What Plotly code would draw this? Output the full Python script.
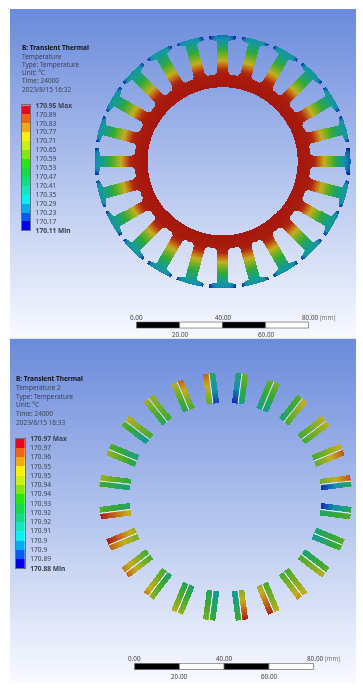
import numpy as np
import plotly.graph_objects as go

# ---------- canvas ----------
W, H = 363, 688
FONT = "Noto Sans"

# ---------- legend data ----------
legend_colors = ["#e60a1e", "#f06414", "#f0aa14", "#faf00a", "#c8f014", "#82e614", "#28e614",
                 "#14dc46", "#14dc82", "#14e6be", "#0af0f0", "#0aaaf0", "#0a5af0", "#0000e6"]
legend_labels_1 = ["<b>170.11 Min</b>", "170.17", "170.23", "170.29", "170.35", "170.41", "170.47", "170.53",
                   "170.59", "170.65", "170.71", "170.77", "170.83", "170.89", "<b>170.95 Max</b>"]
legend_labels_2 = ["<b>170.88 Min</b>", "170.89", "170.9", "170.9", "170.91", "170.92", "170.92", "170.93",
                   "170.94", "170.94", "170.95", "170.95", "170.96", "170.97", "<b>170.97 Max</b>"]
title_lines_1 = ["<b>B: Transient Thermal</b>", "Temperature", "Type: Temperature", "Unit: °C",
                 "Time: 24000", "2023/8/15 16:32"]
title_lines_2 = ["<b>B: Transient Thermal</b>", "Temperature 2", "Type: Temperature", "Unit: °C",
                 "Time: 24000", "2023/8/15 16:33"]
scale_segments = [20, 20, 20, 20]
scale_colors = ["#000000", "#ffffff", "#000000", "#ffffff"]
scale_labels = ["0.00", "20.00", "40.00", "60.00", "80.00"]

# ---------- contour colour table (shaded colours of the model) ----------
contour_scale = [[0.00, "rgb(10,20,160)"], [0.12, "rgb(15,80,175)"], [0.23, "rgb(20,145,175)"],
                 [0.34, "rgb(25,160,125)"], [0.48, "rgb(55,170,50)"], [0.62, "rgb(125,175,35)"],
                 [0.74, "rgb(195,175,30)"], [0.87, "rgb(195,95,20)"], [1.00, "rgb(165,22,12)"]]

# ---------- panel 1: stator core ----------
T1_MIN, T1_MAX = 170.11, 170.95
radius_stops = [34.9, 41.0, 43.0, 44.2, 47.3, 50.4, 53.5, 56.6, 59.5]
temp_stops = [170.95, 170.94, 170.92, 170.87, 170.73, 170.60, 170.46, 170.38, 170.31]
# extra temperature change at the shoe of each tooth (°C), from 0° going counter-clockwise
shoe_offsets = [-.08, 0, 0, 0, 0, -.01, -.05, -.01, 0, 0, 0, 0, -.03, 0, 0, 0, 0, 0, -.03, 0, 0, 0, 0, 0]
R_BORE, R_SLOT, R_SHOE_OUT = 34.9, 40.6, 59.5
TOOTH_HALF, SHOE_HALF = 2.65, 6.4

# ---------- panel 2: coil bars ----------
T2_MIN, T2_MAX = 170.88, 170.97
slot_angles = [7.5, 22.5, 37.5, 52.5, 67.5, 82.5, 97.5, 112.5, 127.5, 142.5, 157.5, 172.5,
               -172.5, -157.5, -142.5, -127.5, -112.5, -97.5, -82.5, -67.5, -52.5, -37.5, -22.5, -7.5]
# (inner, outer) temperature of the bar on the counter-clockwise / clockwise side of each slot
bar_ccw_in = [170.932, 170.925, 170.925, 170.912, 170.910, 170.885, 170.930, 170.915, 170.915, 170.905, 170.918, 170.910,
              170.945, 170.935, 170.925, 170.912, 170.912, 170.905, 170.935, 170.925, 170.925, 170.912, 170.912, 170.885]
bar_ccw_out = [170.960, 170.948, 170.945, 170.930, 170.932, 170.915, 170.958, 170.945, 170.942, 170.930, 170.940, 170.925,
               170.968, 170.958, 170.958, 170.940, 170.940, 170.925, 170.970, 170.945, 170.948, 170.930, 170.930, 170.920]
bar_cw_in = [170.885, 170.930, 170.925, 170.925, 170.908, 170.910, 170.888, 170.925, 170.925, 170.925, 170.910, 170.920,
             170.915, 170.940, 170.925, 170.925, 170.915, 170.915, 170.905, 170.940, 170.925, 170.925, 170.905, 170.915]
bar_cw_out = [170.918, 170.960, 170.945, 170.948, 170.935, 170.935, 170.918, 170.958, 170.940, 170.945, 170.928, 170.940,
              170.928, 170.970, 170.955, 170.953, 170.945, 170.935, 170.925, 170.968, 170.952, 170.945, 170.928, 170.928]
BAR_R_IN, BAR_R_OUT, BAR_V_IN, BAR_V_OUT = 42.8, 56.5, 0.22, 2.8

# ---------- panel placement in the window (pixels) ----------
P1 = dict(l=10, r=356, t=4, b=338, cx=222.6, cy=158.3, s=2.15)
P2 = dict(l=10, r=356, t=338, b=687, cx=225.5, cy=498.7, s=2.2375)


def xr(p):
    return [(p["l"] - p["cx"]) / p["s"], (p["r"] - p["cx"]) / p["s"]]


def yr(p):
    return [(p["cy"] - p["b"]) / p["s"], (p["cy"] - p["t"]) / p["s"]]


def dom_x(p):
    return [p["l"] / W, p["r"] / W]


def dom_y(p):
    return [1 - p["b"] / H, 1 - p["t"] / H]


def grid(p):
    # one heatmap cell per screen pixel
    x0, x1 = xr(p)
    y0, y1 = yr(p)
    nx, ny = int(p["r"] - p["l"]), int(p["b"] - p["t"])
    xs = x0 + (np.arange(nx) + .5) * (x1 - x0) / nx
    ys = y0 + (np.arange(ny) + .5) * (y1 - y0) / ny
    return xs, ys, (x1 - x0) / nx, (y1 - y0) / ny


def background(p, xa, ya):
    x0, x1 = xr(p)
    y0, y1 = yr(p)
    rows = int(p["b"] - p["t"])
    dy = (y1 - y0) / rows
    z = np.repeat(((np.arange(rows) + .5) / rows)[:, None], 2, axis=1)
    return go.Heatmap(z=z, x0=x0 + (x1 - x0) / 4, dx=(x1 - x0) / 2, y0=y0 + dy / 2, dy=dy, zmin=0, zmax=1,
                      colorscale=[[0, "rgb(248,250,255)"], [1, "rgb(106,138,219)"]], showscale=False,
                      hoverinfo="skip", xaxis=xa, yaxis=ya)


def core_field(p):
    xs, ys, dx, dy = grid(p)
    X, Y = np.meshgrid(xs, ys)
    R = np.hypot(X, Y)
    TH = np.degrees(np.arctan2(Y, X)) % 360
    idx = np.round(TH / 15).astype(int) % 24
    rel = np.radians(TH - idx * 15)
    u, v = R * np.cos(rel), np.abs(R * np.sin(rel))
    T = np.interp(R, radius_stops, temp_stops)
    shoe_inner = 57.7 - 0.9 * np.clip((SHOE_HALF - v) / (SHOE_HALF - TOOTH_HALF), 0, 1)
    half = TOOTH_HALF + 0.7 * np.clip(42.0 - u, 0, 2)
    ring = (R >= R_BORE) & (R <= R_SHOE_OUT)
    yoke = R <= R_SLOT + 0.35 * (v / 5) ** 2
    tooth = v <= half
    shoe = (u >= shoe_inner) & (v <= SHOE_HALF)
    drop = 0.012 * np.clip(v - TOOTH_HALF, 0, None) ** 2 * (R > 55)
    off = np.array(shoe_offsets)[idx] * np.clip((R - 52) / 5, 0, 1)
    z = T - drop + off
    z[~(ring & (yoke | tooth | shoe))] = np.nan
    return go.Heatmap(z=z, x0=xs[0], dx=dx, y0=ys[0], dy=dy, zmin=T1_MIN, zmax=T1_MAX,
                      colorscale=contour_scale, showscale=False, hoverinfo="skip", xaxis="x", yaxis="y")


def coil_field(p):
    xs, ys, dx, dy = grid(p)
    X, Y = np.meshgrid(xs, ys)
    z = np.full(X.shape, np.nan)
    lengths = BAR_R_OUT - BAR_R_IN
    for k, a in enumerate(slot_angles):
        c, s = np.cos(np.radians(a)), np.sin(np.radians(a))
        u, v = X * c + Y * s, -X * s + Y * c
        frac = (u - BAR_R_IN) / lengths
        inside = (frac >= 0) & (frac <= 1)
        ccw = inside & (v >= BAR_V_IN) & (v <= BAR_V_OUT)
        cw = inside & (v <= -BAR_V_IN) & (v >= -BAR_V_OUT)
        z[ccw] = bar_ccw_in[k] + (bar_ccw_out[k] - bar_ccw_in[k]) * frac[ccw]
        z[cw] = bar_cw_in[k] + (bar_cw_out[k] - bar_cw_in[k]) * frac[cw]
    return go.Heatmap(z=z, x0=xs[0], dx=dx, y0=ys[0], dy=dy, zmin=T2_MIN, zmax=T2_MAX,
                      colorscale=contour_scale, showscale=False, hoverinfo="skip", xaxis="x2", yaxis="y2")


def gap_lines():
    gx, gy = [], []
    for a in slot_angles:
        c, s = np.cos(np.radians(a)), np.sin(np.radians(a))
        gx += [BAR_R_IN * c, BAR_R_OUT * c, None]
        gy += [BAR_R_IN * s, BAR_R_OUT * s, None]
    return go.Scatter(x=gx, y=gy, mode="lines", line=dict(color="rgba(255,255,255,0.8)", width=0.9),
                      hoverinfo="skip", showlegend=False, xaxis="x2", yaxis="y2")


def scale_bar(p, px_y, start, xa, ya):
    base = start + np.concatenate([[0], np.cumsum(scale_segments)[:-1]])
    return go.Bar(x=scale_segments, base=base, y=[(p["cy"] - px_y) / p["s"]] * 4, orientation="h",
                  width=6 / p["s"], marker=dict(color=scale_colors, line=dict(color="#555555", width=0.6)),
                  hoverinfo="skip", showlegend=False, xaxis=xa, yaxis=ya)


def legend_bar(xa, ya):
    n = len(legend_colors)
    cs = []
    for i, col in enumerate(reversed(legend_colors)):
        cs += [[i / n, col], [(i + 1) / n, col]]
    return go.Heatmap(z=[[i] for i in range(n)], x=[0], y=[i + .5 for i in range(n)], zmin=-.5, zmax=n - .5,
                      colorscale=cs, showscale=False, hoverinfo="skip", xaxis=xa, yaxis=ya)


fig = go.Figure([
    background(P1, "x", "y"), core_field(P1), scale_bar(P1, 324.3, -40.0, "x", "y"),
    background(P2, "x2", "y2"), coil_field(P2), gap_lines(), scale_bar(P2, 670.3, -40.6, "x2", "y2"),
    legend_bar("x3", "y3"), legend_bar("x4", "y4"),
])


def notes(lines, x, ys, size):
    out = []
    for t, y in zip(lines, ys):
        out.append(dict(text=t, xref="paper", yref="paper", x=x / W, y=1 - y / H, xanchor="left", yanchor="middle",
                        showarrow=False, font=dict(family=FONT, size=size, color="#111111" if "<b>" in t else "#3c4250")))
    return out


def scale_notes(p, start, top_px, bot_px, xa, ya):
    out = []
    for i, t in enumerate(scale_labels):
        x = start + sum(scale_segments[:i])
        py = top_px if i % 2 == 0 else bot_px
        if i == 4:
            t += ' <span style="color:#777">(mm)</span>'
        out.append(dict(text=t, xref=xa, yref=ya, x=x, y=(p["cy"] - py) / p["s"], xanchor="left" if i == 4 else "center",
                        xshift=-9 if i == 4 else 0, yanchor="middle", showarrow=False,
                        font=dict(family=FONT, size=6.3, color="#3c4250")))
    return out


ann = notes(title_lines_1, 19.8, [43.3, 52, 60.4, 68.6, 77, 85.4], 6.5)
ann += notes(title_lines_2, 13.8, [378.7, 387.7, 396.7, 405.2, 413.7, 422.7], 6.5)
ann += scale_notes(P1, -40.0, 316.7, 334, "x", "y")
ann += scale_notes(P2, -40.6, 662.3, 680.7, "x2", "y2")


def hidden():
    return dict(visible=False, fixedrange=True)


def legend_y(labels, pad, top, bottom):
    return dict(domain=[1 - bottom / H, 1 - top / H], range=[0, len(legend_colors)], tickmode="array",
                tickvals=list(range(len(labels))), ticktext=labels, side="right", anchor=pad, showgrid=False,
                zeroline=False, ticks="", ticklabelstandoff=3, showline=True, linecolor="#6a6f80", linewidth=1,
                mirror=True, tickfont=dict(family=FONT, size=6.6, color="#3c4250"))


def legend_x(left, right, anchor):
    return dict(domain=[left / W, right / W], range=[-.5, .5], visible=True, showticklabels=False, ticks="",
                showgrid=False, zeroline=False, showline=True, linecolor="#6a6f80", linewidth=1, mirror=True,
                anchor=anchor)


fig.update_layout(
    width=W, height=H, margin=dict(l=0, r=0, t=0, b=0, pad=0), paper_bgcolor="white", plot_bgcolor="white",
    showlegend=False, barmode="overlay", annotations=ann,
    xaxis=dict(domain=dom_x(P1), range=xr(P1), anchor="y", **hidden()),
    yaxis=dict(domain=dom_y(P1), range=yr(P1), anchor="x", **hidden()),
    xaxis2=dict(domain=dom_x(P2), range=xr(P2), anchor="y2", **hidden()),
    yaxis2=dict(domain=dom_y(P2), range=yr(P2), anchor="x2", **hidden()),
    xaxis3=legend_x(22, 30.3, "y3"),
    yaxis3=legend_y(legend_labels_1, "x3", 101.7, 228.3),
    xaxis4=legend_x(15.7, 25, "y4"),
    yaxis4=legend_y(legend_labels_2, "x4", 439.3, 570.7),
)

fig.write_html("out.html", config={"displayModeBar": False},
               post_script="document.body.style.margin='0';document.documentElement.style.overflow='hidden';"
                           "document.querySelectorAll('.plot-container').forEach(e=>e.style.filter='blur(0.55px)');")
